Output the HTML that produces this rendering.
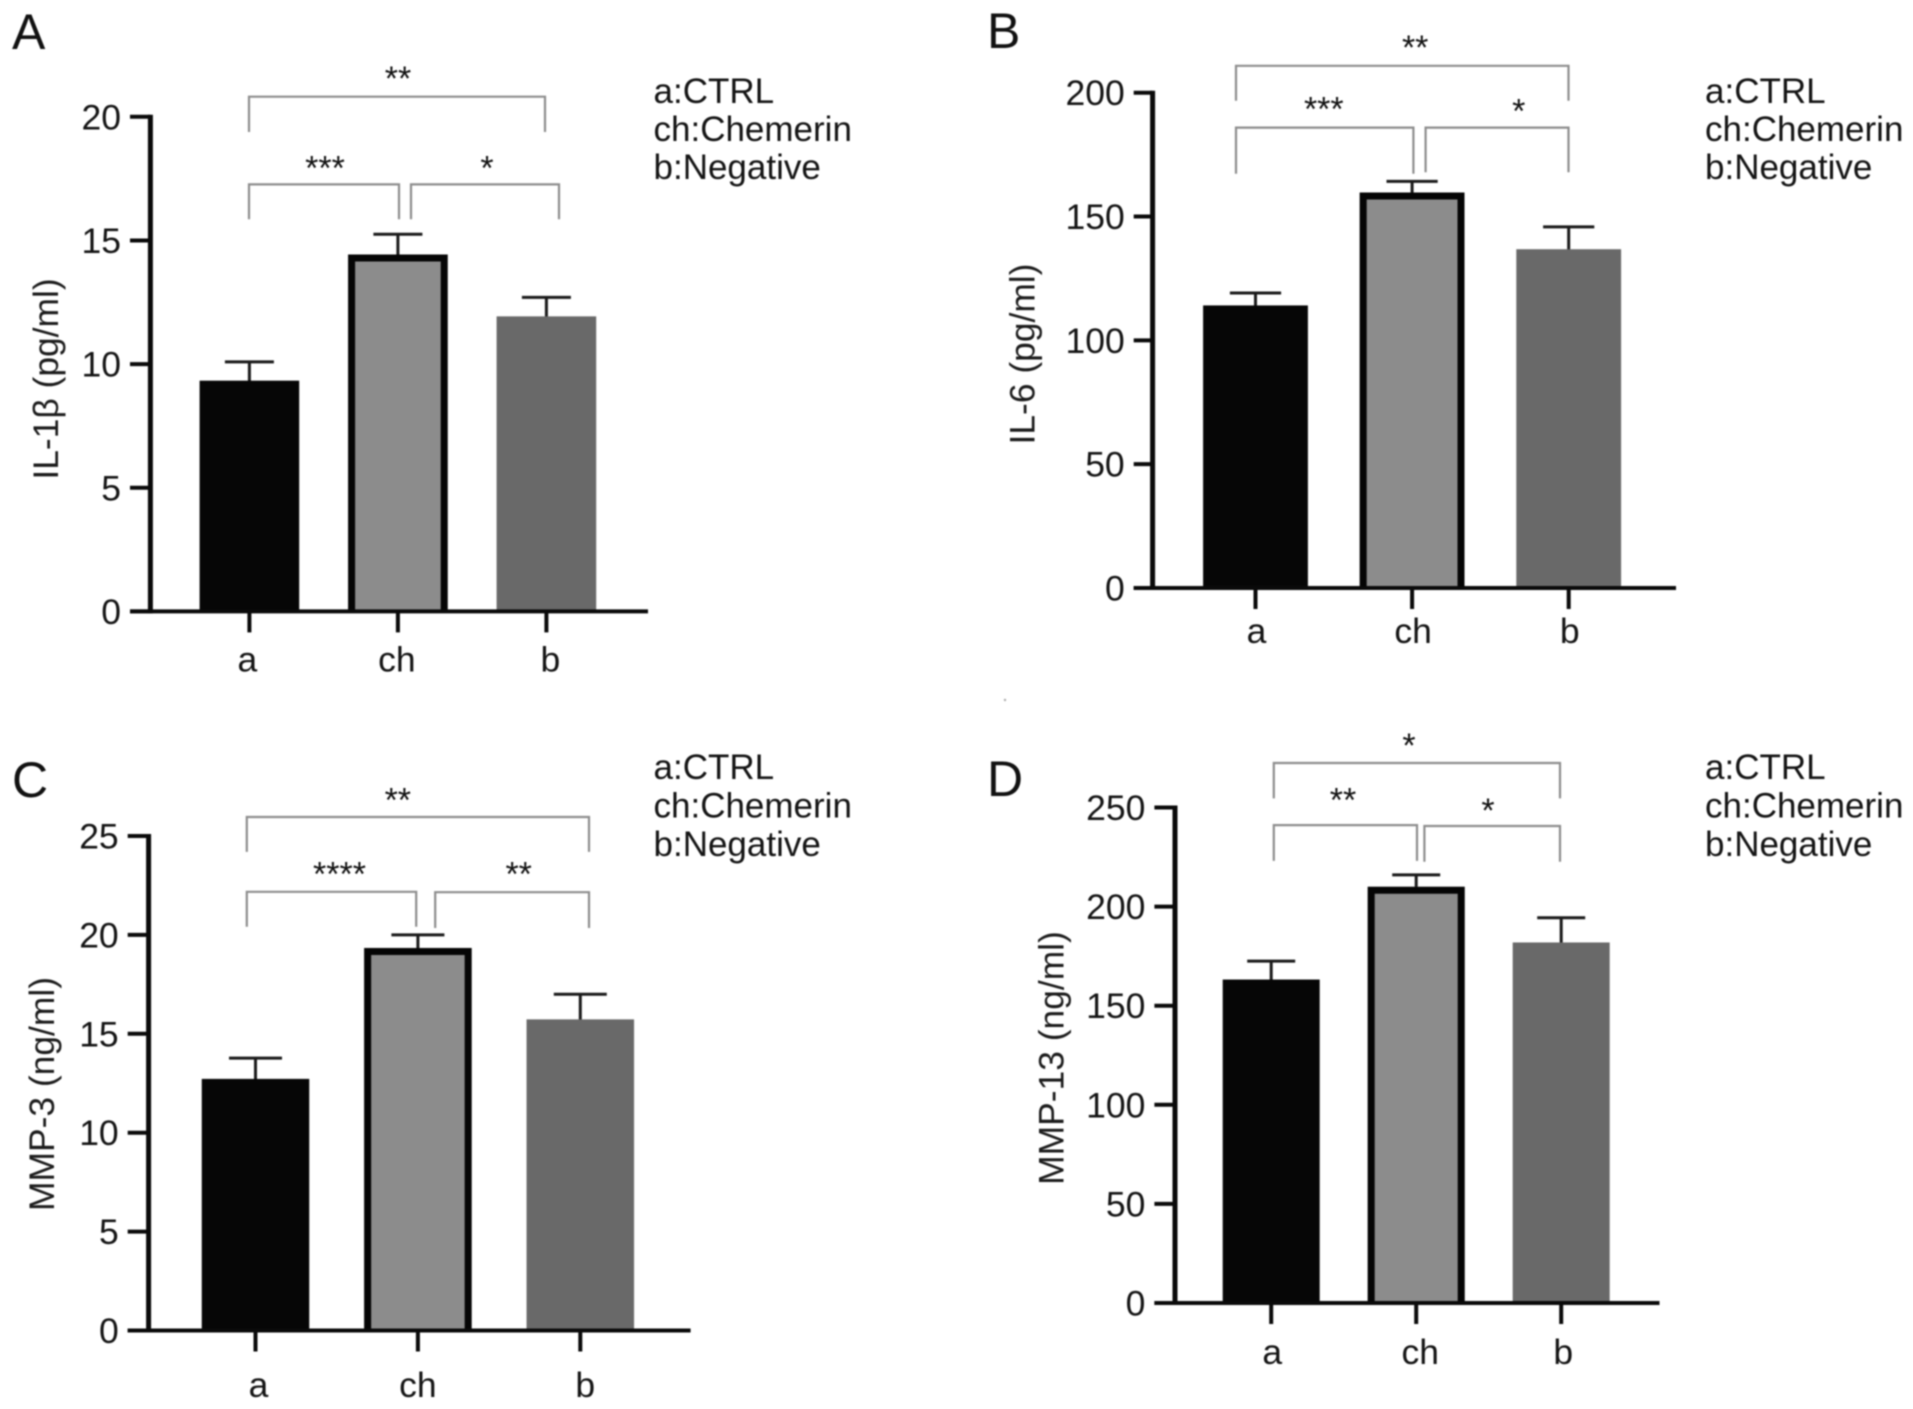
<!DOCTYPE html>
<html lang="en">
<head>
<meta charset="utf-8">
<title>Cytokine levels by group</title>
<style>
html,body{margin:0;padding:0;background:#fff;width:1913px;height:1409px;overflow:hidden}
svg{display:block;filter:blur(0.7px)}
text{font-family:"Liberation Sans",Arial,sans-serif;fill:#141414}
.legend{font-size:35px}
.tick{font-size:35.5px}
.ytitle{font-size:35.4px;fill:#1c1c1c}
.panel{font-size:50px;fill:#111}
.star{font-size:34px;text-anchor:middle;fill:#111}
.br{fill:none;stroke:#8d8d8d;stroke-width:2.2}
</style>
</head>
<body>
<svg id="fig" xmlns="http://www.w3.org/2000/svg" width="1913" height="1409" viewBox="0 0 1913 1409">
<rect width="1913" height="1409" fill="#fff"/>
<circle cx="1005" cy="700" r="1.2" fill="#aaa"/>

<g id="panel-a">
<text class="panel" x="12" y="49">A</text>
<text class="ytitle" transform="translate(58,379) rotate(-90)" text-anchor="middle">IL-1β (pg/ml)</text>
<g>
<text class="legend" x="653.5" y="103">a:CTRL</text>
<text class="legend" x="653.5" y="141">ch:Chemerin</text>
<text class="legend" x="653.5" y="179">b:Negative</text>
</g>
<path class="br" d="M249 132V96.7H545V132"/>
<path class="br" d="M249 219.3V184.4H399V219.3"/>
<path class="br" d="M411 219.3V184.4H559V219.3"/>
<text class="star" x="398" y="90">**</text>
<text class="star" x="325" y="179.5">***</text>
<text class="star" x="487" y="179.5">*</text>
</g>

<g id="panel-b">
<text class="panel" x="987" y="48">B</text>
<text class="ytitle" transform="translate(1034.3,354) rotate(-90)" text-anchor="middle">IL-6 (pg/ml)</text>
<g>
<text class="legend" x="1705" y="103">a:CTRL</text>
<text class="legend" x="1705" y="141">ch:Chemerin</text>
<text class="legend" x="1705" y="179">b:Negative</text>
</g>
<path class="br" d="M1236 100.7V65.8H1568.5V100.7"/>
<path class="br" d="M1236 173.7V127.6H1413.4V173.7"/>
<path class="br" d="M1425.6 172.3V127.6H1568.5V172.3"/>
<text class="star" x="1415.2" y="59">**</text>
<text class="star" x="1323.8" y="120.5">***</text>
<text class="star" x="1518.8" y="122.5">*</text>
</g>

<g id="panel-c">
<text class="panel" x="12" y="797">C</text>
<text class="ytitle" transform="translate(54,1094) rotate(-90)" text-anchor="middle">MMP-3 (ng/ml)</text>
<g>
<text class="legend" x="653.5" y="779">a:CTRL</text>
<text class="legend" x="653.5" y="817.5">ch:Chemerin</text>
<text class="legend" x="653.5" y="856">b:Negative</text>
</g>
<path class="br" d="M246.8 851.9V817H589V851.9"/>
<path class="br" d="M246.8 926.7V891.8H416.2V926.7"/>
<path class="br" d="M435.2 928V892.2H589V928"/>
<text class="star" x="397.8" y="811.5">**</text>
<text class="star" x="339.5" y="885.5">****</text>
<text class="star" x="518.7" y="885.5">**</text>
</g>

<g id="panel-d">
<text class="panel" x="987" y="796">D</text>
<text class="ytitle" transform="translate(1063.6,1058) rotate(-90)" text-anchor="middle">MMP-13 (ng/ml)</text>
<g>
<text class="legend" x="1705" y="779">a:CTRL</text>
<text class="legend" x="1705" y="817.5">ch:Chemerin</text>
<text class="legend" x="1705" y="856">b:Negative</text>
</g>
<path class="br" d="M1273.8 798.4V763H1560V798.4"/>
<path class="br" d="M1273.8 860.9V825.1H1417V860.9"/>
<path class="br" d="M1424.4 861.8V826H1560V861.8"/>
<text class="star" x="1409" y="757">*</text>
<text class="star" x="1343" y="811.5">**</text>
<text class="star" x="1488" y="822">*</text>
</g>
</svg>

<script>
// Chart data
var categories = ['a', 'ch', 'b'];

var il1bMeans = [9.33, 14.43, 11.93];
var il1bErrors = [0.76, 0.82, 0.77];
var il1bTicks = [0, 5, 10, 15, 20];

var il6Means = [114.1, 159.7, 136.8];
var il6Errors = [5.0, 4.5, 9.0];
var il6Ticks = [0, 50, 100, 150, 200];

var mmp3Means = [12.72, 19.34, 15.73];
var mmp3Errors = [1.05, 0.66, 1.27];
var mmp3Ticks = [0, 5, 10, 15, 20, 25];

var mmp13Means = [163.2, 210, 181.9];
var mmp13Errors = [9.3, 6.0, 12.5];
var mmp13Ticks = [0, 50, 100, 150, 200, 250];

var barFills = ['#060606', '#8c8c8c', '#696969'];
var NS = 'http://www.w3.org/2000/svg';

function make(parent, tag, attrs) {
  var el = document.createElementNS(NS, tag);
  for (var k in attrs) el.setAttribute(k, attrs[k]);
  parent.appendChild(el);
  return el;
}

function drawPanel(id, means, errors, ticks, g) {
  var parent = document.getElementById(id);
  var yMax = ticks[ticks.length - 1];
  function yScale(v) { return g.yBase - (v / yMax) * (g.yBase - g.yTop); }
  function xScale(i) { return g.xFirst + i * g.xStep; }

  means.forEach(function (value, i) {
    var cx = xScale(i);
    var top = yScale(value);
    var errTop = yScale(value + errors[i]);
    var left = cx - g.barW / 2;

    var stem = make(parent, 'line', {x1: cx, x2: cx, y1: errTop, y2: top + 2, stroke: '#1a1a1a', 'stroke-width': 3});
    
    

    var cap = make(parent, 'line', {x1: cx - g.cap, x2: cx + g.cap, y1: errTop, y2: errTop, stroke: '#1a1a1a', 'stroke-width': 3});
    
    

    var bar = make(parent, 'rect', {x: left, y: top, width: g.barW, height: Math.max(0, g.yBase - top), fill: barFills[i]});
    
    

    if (categories[i] === 'ch') {
      var inset = 3.5;
      var outline = make(parent, 'path', {
        d: 'M' + (left + inset) + ' ' + g.yBase + 'V' + (top + inset) + 'H' + (left + g.barW - inset) + 'V' + g.yBase,
        fill: 'none',
        stroke: '#050505',
        'stroke-width': 7
      });
      
      
    }

    var xTick = make(parent, 'line', {x1: cx, x2: cx, y1: g.yBase, y2: g.yBase + 21, stroke: '#0a0a0a', 'stroke-width': 4});
    
    

    var xLabel = make(parent, 'text', {class: 'tick', x: cx + g.labelDx[i], y: g.yBase + g.labelDy, 'text-anchor': 'middle'});
    xLabel.textContent = categories[i];
    
    
  });

  ticks.forEach(function (t) {
    var y = yScale(t);
    var yTick = make(parent, 'line', {x1: g.tickStart, x2: g.xAxis, y1: y, y2: y, stroke: '#0a0a0a', 'stroke-width': 4});
    
    

    var yLabel = make(parent, 'text', {class: 'tick', x: g.tickStart - 9, y: y + 12.5, 'text-anchor': 'end'});
    yLabel.textContent = t;
    
    
  });

  var yAxis = make(parent, 'line', {x1: g.xAxis, x2: g.xAxis, y1: g.yTop - 2, y2: g.yBase + 2, stroke: '#0a0a0a', 'stroke-width': 5});
  
  

  var xAxis = make(parent, 'line', {x1: g.tickStart, x2: g.xEnd, y1: g.yBase, y2: g.yBase, stroke: '#0a0a0a', 'stroke-width': 4});
  
  
}

drawPanel('panel-a', il1bMeans, il1bErrors, il1bTicks, {
  xAxis: 150.4, tickStart: 130, xEnd: 648, yTop: 116.8, yBase: 611.4,
  xFirst: 249.4, xStep: 148.5, barW: 99.6, cap: 24.5, labelDx: [-2, -1, 4], labelDy: 60
});
drawPanel('panel-b', il6Means, il6Errors, il6Ticks, {
  xAxis: 1152.6, tickStart: 1133.7, xEnd: 1676, yTop: 92.7, yBase: 588,
  xFirst: 1255.5, xStep: 156.6, barW: 104.8, cap: 25.6, labelDx: [1, 1, 1], labelDy: 55
});
drawPanel('panel-c', mmp3Means, mmp3Errors, mmp3Ticks, {
  xAxis: 148.6, tickStart: 127.7, xEnd: 690.6, yTop: 836, yBase: 1330.5,
  xFirst: 255.5, xStep: 162.4, barW: 107.5, cap: 26.5, labelDx: [3, 0, 5], labelDy: 66.5
});
drawPanel('panel-d', mmp13Means, mmp13Errors, mmp13Ticks, {
  xAxis: 1175, tickStart: 1154.4, xEnd: 1659.5, yTop: 807.5, yBase: 1303,
  xFirst: 1271.2, xStep: 145, barW: 97, cap: 24, labelDx: [1, 4, 2], labelDy: 61
});
</script>
</body>
</html>
